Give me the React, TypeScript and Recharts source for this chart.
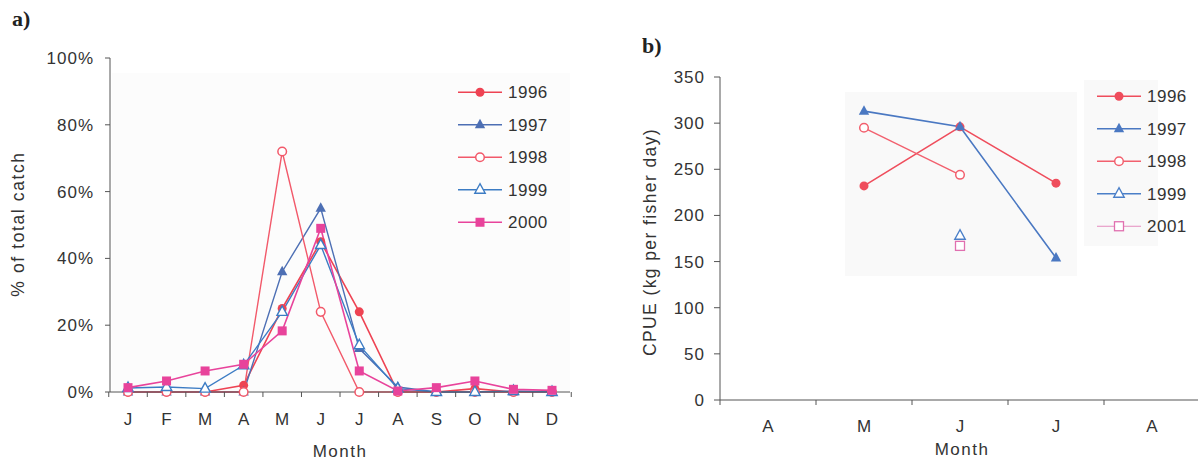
import React from "react";
import { LineChart, Line, XAxis, YAxis, Legend } from "recharts";

// panel a: % of total catch by month
const MONTHS_A = ["J", "F", "M", "A", "M", "J", "J", "A", "S", "O", "N", "D"];
const A_1996 = [0, 0, 0, 2, 25, 45, 24, 0, 0, 1, 0, 0];
const A_1997 = [0, 0, 0, 0, 36, 55, 13, 1.5, 0, 0, 0, 0];
const A_1998 = [0, 0, 0, 0, 72, 24, 0, 0, 0, 0, 0, 0];
const A_1999 = [1.2, 1.5, 1, 8, 24, 44, 14, 1, 0, 0, 0.3, 0];
const A_2000 = [1.3, 3.3, 6.3, 8.3, 18.3, 49, 6.3, 0.3, 1.3, 3.3, 0.8, 0.5];
const A_TICKS = [0, 20, 40, 60, 80, 100];

// panel b: CPUE
const MONTHS_B = ["A", "M", "J", "J", "A"];
const B_1996 = [null, 232, 296, 235, null];
const B_1997 = [null, 313, 296, 154, null];
const B_1998 = [null, 295, 244, null, null];
const B_1999 = [null, null, 178, null, null];
const B_2001 = [null, null, 167, null, null];
const B_TICKS = [0, 50, 100, 150, 200, 250, 300, 350];

const FONT = '"Liberation Sans", Arial, sans-serif';

const dataA = MONTHS_A.map((m, i) => ({
  m,
  y1996: A_1996[i],
  y1997: A_1997[i],
  y1998: A_1998[i],
  y1999: A_1999[i],
  y2000: A_2000[i],
}));

const dataB = MONTHS_B.map((m, i) => ({
  m,
  y1996: B_1996[i],
  y1997: B_1997[i],
  y1998: B_1998[i],
  y1999: B_1999[i],
  y2001: B_2001[i],
}));

type Shape = "circle" | "openCircle" | "triangle" | "openTriangle" | "square" | "openSquare";

const seriesA: { key: string; name: string; color: string; shape: Shape; width: number }[] = [
  { key: "y1996", name: "1996", color: "#ee4353", shape: "circle", width: 1.6 },
  { key: "y1997", name: "1997", color: "#4d6fb4", shape: "triangle", width: 1.4 },
  { key: "y1998", name: "1998", color: "#f2596a", shape: "openCircle", width: 1.4 },
  { key: "y1999", name: "1999", color: "#3c7cc4", shape: "openTriangle", width: 1.4 },
  { key: "y2000", name: "2000", color: "#e8439b", shape: "square", width: 1.6 },
];

const seriesB: { key: string; name: string; color: string; shape: Shape; width: number }[] = [
  { key: "y1996", name: "1996", color: "#ef4d5c", shape: "circle", width: 1.6 },
  { key: "y1997", name: "1997", color: "#4a78c2", shape: "triangle", width: 1.6 },
  { key: "y1998", name: "1998", color: "#f2606e", shape: "openCircle", width: 1.4 },
  { key: "y1999", name: "1999", color: "#4a7fc8", shape: "openTriangle", width: 1.4 },
  { key: "y2001", name: "2001", color: "#e070b0", shape: "openSquare", width: 0.8 },
];

const Marker = ({ cx, cy, shape, color }: { cx: number; cy: number; shape: Shape; color: string }) => {
  if (shape === "circle") return <circle cx={cx} cy={cy} r={4.5} fill={color} />;
  if (shape === "openCircle")
    return <circle cx={cx} cy={cy} r={4.3} fill="#fff" stroke={color} strokeWidth={1.5} />;
  if (shape === "triangle" || shape === "openTriangle") {
    const pts = `${cx},${cy - 6} ${cx - 5.2},${cy + 3.5} ${cx + 5.2},${cy + 3.5}`;
    return shape === "triangle" ? (
      <polygon points={pts} fill={color} />
    ) : (
      <polygon points={pts} fill="#fff" stroke={color} strokeWidth={1.4} />
    );
  }
  if (shape === "square") return <rect x={cx - 4.5} y={cy - 4.5} width={9} height={9} fill={color} />;
  return <rect x={cx - 4.5} y={cy - 4.5} width={9} height={9} fill="#fff" stroke={color} strokeWidth={1.3} />;
};

const dotFn = (shape: Shape, color: string) => (p: any) => {
  const k = `${p.dataKey}-${p.index}`;
  if (p.value == null || p.cy == null) return <g key={k} />;
  return <Marker key={k} cx={p.cx} cy={p.cy} shape={shape} color={color} />;
};

// category labels, with tick marks on the band boundaries
const bandTick = (axisY: number, step: number, count: number, textY: number) => (props: any) => {
  const { x, payload, index } = props;
  const left = x - step / 2;
  return (
    <g>
      <line x1={left} x2={left} y1={axisY} y2={axisY + 5} stroke="#555" />
      {index === count - 1 && (
        <line x1={x + step / 2} x2={x + step / 2} y1={axisY} y2={axisY + 5} stroke="#555" />
      )}
      <text x={x} y={textY} textAnchor="middle" fontSize={17} fill="#333" fontFamily={FONT}>
        {payload.value}
      </text>
    </g>
  );
};

const legendContent = (items: typeof seriesA, gap: number) => () => (
  <svg width={120} height={gap * items.length}>
    {items.map((s, i) => {
      const y = gap / 2 + i * gap;
      return (
        <g key={s.key}>
          <line x1={0} x2={44} y1={y} y2={y} stroke={s.color} strokeWidth={s.width} />
          <Marker cx={22} cy={y} shape={s.shape} color={s.color} />
          <text x={50} y={y + 6} fontSize={17} fill="#333" fontFamily={FONT} letterSpacing={0.5}>
            {s.name}
          </text>
        </g>
      );
    })}
  </svg>
);

const tickStyle = { fill: "#333", fontSize: 17, fontFamily: FONT, letterSpacing: 1 };

const App: React.FC = () => {
  return (
    <div
      style={{
        position: "absolute",
        left: 0,
        top: 0,
        width: 1198,
        height: 463,
        background: "#fff",
        overflow: "hidden",
        fontFamily: FONT,
      }}
    >
      {/* faint grey panels from the scan */}
      <div style={{ position: "absolute", left: 112, top: 73, width: 458, height: 318, background: "#fcfcfc" }} />
      <div style={{ position: "absolute", left: 845, top: 92, width: 232, height: 184, background: "#f9f9f9" }} />
      <div style={{ position: "absolute", left: 1084, top: 80, width: 74, height: 166, background: "#f9f9f9" }} />

      <div style={{ position: "absolute", left: 12, top: 6, fontFamily: "'Liberation Serif', serif", fontWeight: 700, fontSize: 22, color: "#222" }}>
        a)
      </div>
      <div style={{ position: "absolute", left: 642, top: 33, fontFamily: "'Liberation Serif', serif", fontWeight: 700, fontSize: 22, color: "#222" }}>
        b)
      </div>

      <div style={{ position: "absolute", left: 0, top: 0 }}>
        <LineChart width={600} height={463} data={dataA} margin={{ top: 58, right: 30, left: 0, bottom: 0 }}>
          <XAxis
            dataKey="m"
            height={71}
            padding={{ left: 18, right: 18 }}
            interval={0}
            tickLine={false}
            stroke="#555"
            tick={bandTick(392, 38.5, MONTHS_A.length, 425)}
          />
          <YAxis
            width={110}
            domain={[0, 100]}
            ticks={A_TICKS}
            tickFormatter={(v) => `${v}%`}
            tickSize={5}
            tickMargin={11}
            stroke="#555"
            tick={tickStyle}
          />
          <Legend
            layout="vertical"
            verticalAlign="middle"
            align="center"
            wrapperStyle={{ position: "absolute", left: 458, top: 76, width: 120, height: 165 }}
            content={legendContent(seriesA, 32.5)}
          />
          {seriesA.map((s) => (
            <Line
              key={s.key}
              dataKey={s.key}
              name={s.name}
              stroke={s.color}
              strokeWidth={s.width}
              dot={dotFn(s.shape, s.color)}
              activeDot={false}
              isAnimationActive={false}
            />
          ))}
        </LineChart>
      </div>

      <div style={{ position: "absolute", left: 600, top: 0 }}>
        <LineChart width={598} height={463} data={dataB} margin={{ top: 77, right: 0, left: 0, bottom: 0 }}>
          <XAxis
            dataKey="m"
            height={63}
            padding={{ left: 48, right: 46 }}
            interval={0}
            tickLine={false}
            stroke="#555"
            tick={bandTick(400, 96, MONTHS_B.length, 432)}
          />
          <YAxis
            width={120}
            domain={[0, 350]}
            ticks={B_TICKS}
            tickSize={6}
            tickMargin={9}
            stroke="#555"
            tick={tickStyle}
          />
          <Legend
            layout="vertical"
            verticalAlign="middle"
            align="center"
            wrapperStyle={{ position: "absolute", left: 497, top: 80, width: 120, height: 165 }}
            content={legendContent(seriesB, 32.5)}
          />
          {seriesB.map((s) => (
            <Line
              key={s.key}
              dataKey={s.key}
              name={s.name}
              stroke={s.color}
              strokeWidth={s.width}
              dot={dotFn(s.shape, s.color)}
              activeDot={false}
              connectNulls={false}
              isAnimationActive={false}
            />
          ))}
        </LineChart>
      </div>

      <div
        style={{
          position: "absolute",
          left: 18,
          top: 224,
          transform: "translate(-50%, -50%) rotate(-90deg)",
          whiteSpace: "nowrap",
          fontSize: 17.5,
          letterSpacing: 1.6,
          color: "#333",
        }}
      >
        % of total catch
      </div>
      <div
        style={{
          position: "absolute",
          left: 650,
          top: 242,
          transform: "translate(-50%, -50%) rotate(-90deg)",
          whiteSpace: "nowrap",
          fontSize: 17.5,
          letterSpacing: 1.4,
          color: "#333",
        }}
      >
        CPUE (kg per fisher day)
      </div>
      <div style={{ position: "absolute", left: 340, top: 452, transform: "translate(-50%, -50%)", fontSize: 17, letterSpacing: 1.5, color: "#333" }}>
        Month
      </div>
      <div style={{ position: "absolute", left: 962, top: 450, transform: "translate(-50%, -50%)", fontSize: 17, letterSpacing: 1.5, color: "#333" }}>
        Month
      </div>
    </div>
  );
};

export default App;
